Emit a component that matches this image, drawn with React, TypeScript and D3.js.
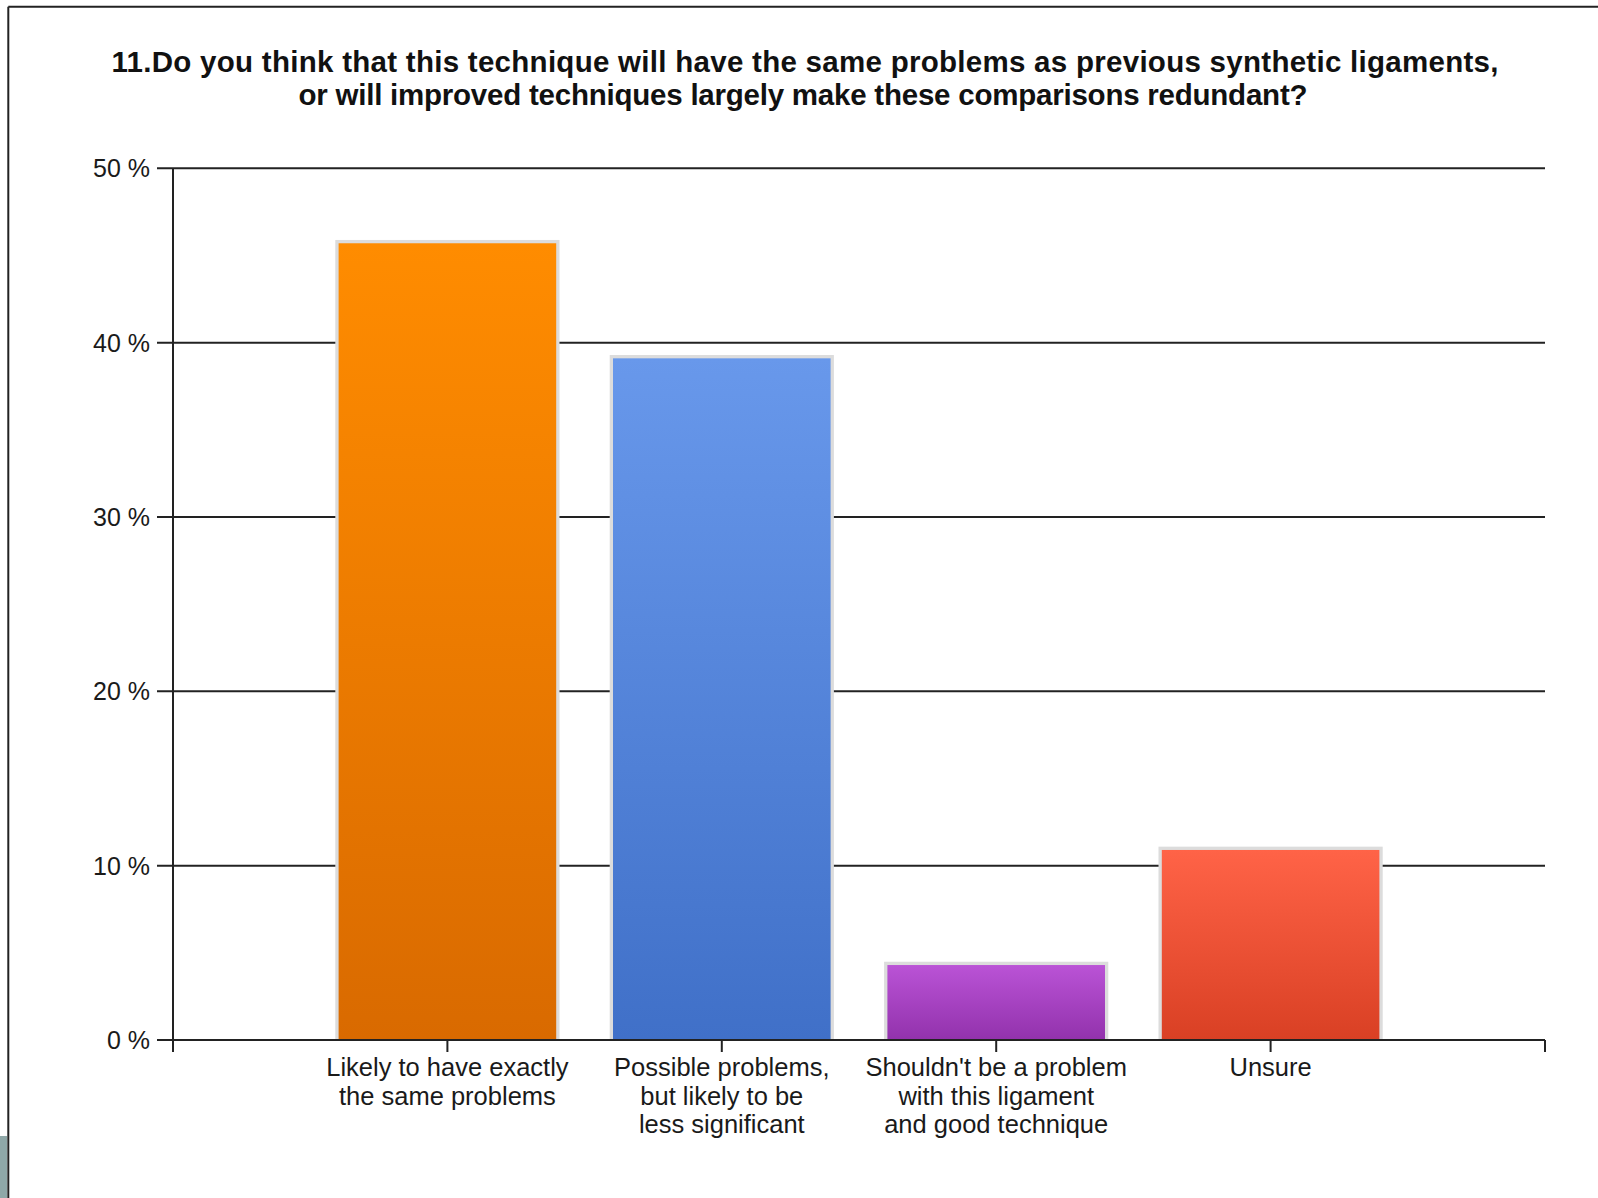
import React from "react";
import * as d3 from "d3";

const titleLines = [
  "11.Do you think that this technique will have the same problems as previous synthetic ligaments,",
  "or will improved techniques largely make these comparisons redundant?",
];
const categories = ["likely", "possible", "shouldnt", "unsure"];
const categoryLabels = [
  ["Likely to have exactly", "the same problems"],
  ["Possible problems,", "but likely to be", "less significant"],
  ["Shouldn't be a problem", "with this ligament", "and good technique"],
  ["Unsure"],
];
const values = [45.7, 39.1, 4.3, 10.9];
const yTicks = [0, 10, 20, 30, 40, 50];
const colorsTop = ["#FF8C00", "#6898EB", "#BA53D6", "#FF6347"];
const colorsBottom = ["#D96A00", "#4070C8", "#9232AC", "#D94024"];

const W = 1598;
const H = 1198;
const left = 173;
const right = 1545;
const top = 168.3;
const bottom = 1040;

export default function App() {
  const y = d3.scaleLinear().domain([0, 50]).range([bottom, top]);
  const x = d3.scalePoint<string>().domain(categories).range([left, right]).padding(1);
  const step = x.step();
  const bw = step * 0.793;
  const border = 3.3;
  const xTicks = [left, ...categories.map((c) => x(c) as number), right];
  const font = "'Liberation Sans', Arial, sans-serif";
  const ink = "#1a1a1a";

  return (
    <svg
      width={W}
      height={H}
      style={{ position: "absolute", left: 0, top: 0, background: "#fff" }}
    >
      <defs>
        {categories.map((c, i) => (
          <linearGradient key={c} id={`g${i}`} x1="0" y1="0" x2="0" y2="1">
            <stop offset="0%" stopColor={colorsTop[i]} />
            <stop offset="100%" stopColor={colorsBottom[i]} />
          </linearGradient>
        ))}
      </defs>
      <rect x={0} y={0} width={W} height={H} fill="#fff" />
      {/* frame */}
      <line x1={8.3} x2={W} y1={6.7} y2={6.7} stroke="#222" strokeWidth={2} />
      <line x1={8.3} x2={8.3} y1={6.7} y2={H} stroke="#222" strokeWidth={2} />
      <rect x={0} y={1136} width={7} height={H - 1136} fill="#8FA8A8" />

      {/* title */}
      <g fontFamily={font} fontWeight="bold" fontSize={29.5} fill="#111" textAnchor="middle">
        <text x={805} y={71.5} textLength={1387} lengthAdjust="spacing">
          {titleLines[0]}
        </text>
        <text x={803} y={105} textLength={1009} lengthAdjust="spacing">
          {titleLines[1]}
        </text>
      </g>

      {/* gridlines + y ticks */}
      {yTicks.map((t) => (
        <g key={t}>
          <line x1={157} x2={right} y1={y(t)} y2={y(t)} stroke="#222" strokeWidth={2} />
          <text
            x={150}
            y={y(t) + 9}
            textAnchor="end"
            fontFamily={font}
            fontSize={25}
            fill={ink}
          >
            {`${t} %`}
          </text>
        </g>
      ))}

      {/* bars */}
      {categories.map((c, i) => {
        const cx = x(c) as number;
        const yt = y(values[i]);
        return (
          <g key={c}>
            <rect
              x={cx - bw / 2 - border}
              y={yt - border}
              width={bw + border * 2}
              height={bottom - yt + border}
              fill="#dcdcdc"
            />
            <rect x={cx - bw / 2} y={yt} width={bw} height={bottom - yt} fill={`url(#g${i})`} />
          </g>
        );
      })}

      {/* axes */}
      <line x1={left} x2={left} y1={top} y2={bottom + 12} stroke="#222" strokeWidth={2} />
      <line x1={157} x2={right} y1={bottom} y2={bottom} stroke="#222" strokeWidth={2} />
      {xTicks.map((tx, i) => (
        <line key={i} x1={tx} x2={tx} y1={bottom} y2={bottom + 12} stroke="#222" strokeWidth={2} />
      ))}

      {/* x labels */}
      {categories.map((c, i) => (
        <text
          key={c}
          x={x(c) as number}
          y={1076}
          textAnchor="middle"
          fontFamily={font}
          fontSize={25.5}
          fill={ink}
        >
          {categoryLabels[i].map((line, j) => (
            <tspan key={j} x={x(c) as number} dy={j === 0 ? 0 : 28.5}>
              {line}
            </tspan>
          ))}
        </text>
      ))}
    </svg>
  );
}
